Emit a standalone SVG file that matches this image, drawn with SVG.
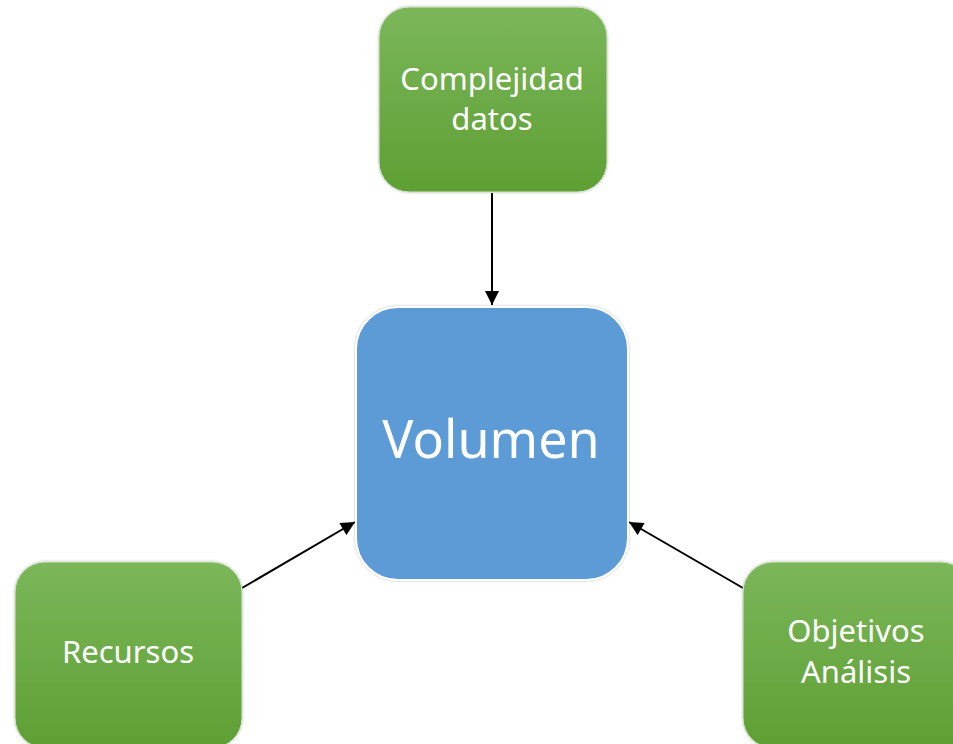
<svg xmlns="http://www.w3.org/2000/svg" width="953" height="744" viewBox="0 0 953 744">
<style>
.green{fill:url(#g);stroke:#d8e6cf;stroke-width:1}
.blue{fill:#5b9bd5;stroke:#ffffff;stroke-width:2}
.t{font-family:"Noto Sans","Open Sans",sans-serif;fill:#ffffff;text-anchor:middle}
.c{stroke:#000;stroke-width:2;fill:none;marker-end:url(#ah)}
</style>
<defs>
<linearGradient id="g" x1="0" y1="0" x2="0" y2="1">
<stop offset="0" stop-color="#7bb75a"/>
<stop offset="1" stop-color="#5e9f34"/>
</linearGradient>
<filter id="sh" x="-10%" y="-10%" width="120%" height="120%">
<feDropShadow dx="0" dy="0" stdDeviation="1" flood-color="#888" flood-opacity="0.6"/>
</filter>
<marker id="ah" viewBox="0 0 10 10" refX="10" refY="5" markerWidth="7.5" markerHeight="7" orient="auto" markerUnits="strokeWidth">
<path d="M0,0 L10,5 L0,10 z" fill="#000"/>
</marker>
</defs>
<rect width="953" height="744" fill="#ffffff"/>
<g id="connectors">
<line class="c" x1="492" y1="193" x2="492" y2="305"/>
<line class="c" x1="242" y1="588" x2="355" y2="522"/>
<line class="c" x1="743" y1="588" x2="629" y2="522"/>
</g>
<g id="node-complejidad">
<rect class="green" x="379" y="7" width="228" height="185" rx="30" filter="url(#sh)"/>
<text class="t" x="492" y="90" font-size="31">Complejidad</text>
<text class="t" x="492" y="130" font-size="31">datos</text>
</g>
<g id="node-volumen">
<rect class="blue" x="356" y="307" width="272" height="273" rx="42" filter="url(#sh)"/>
<text class="t" x="491" y="458" font-size="52">Volumen</text>
</g>
<g id="node-recursos">
<rect class="green" x="15" y="562" width="227" height="186" rx="30" filter="url(#sh)"/>
<text class="t" x="128" y="663" font-size="31">Recursos</text>
</g>
<g id="node-objetivos">
<rect class="green" x="743" y="562" width="228" height="186" rx="30" filter="url(#sh)"/>
<text class="t" x="856" y="642" font-size="31">Objetivos</text>
<text class="t" x="856" y="683" font-size="31">Análisis</text>
</g>
</svg>
